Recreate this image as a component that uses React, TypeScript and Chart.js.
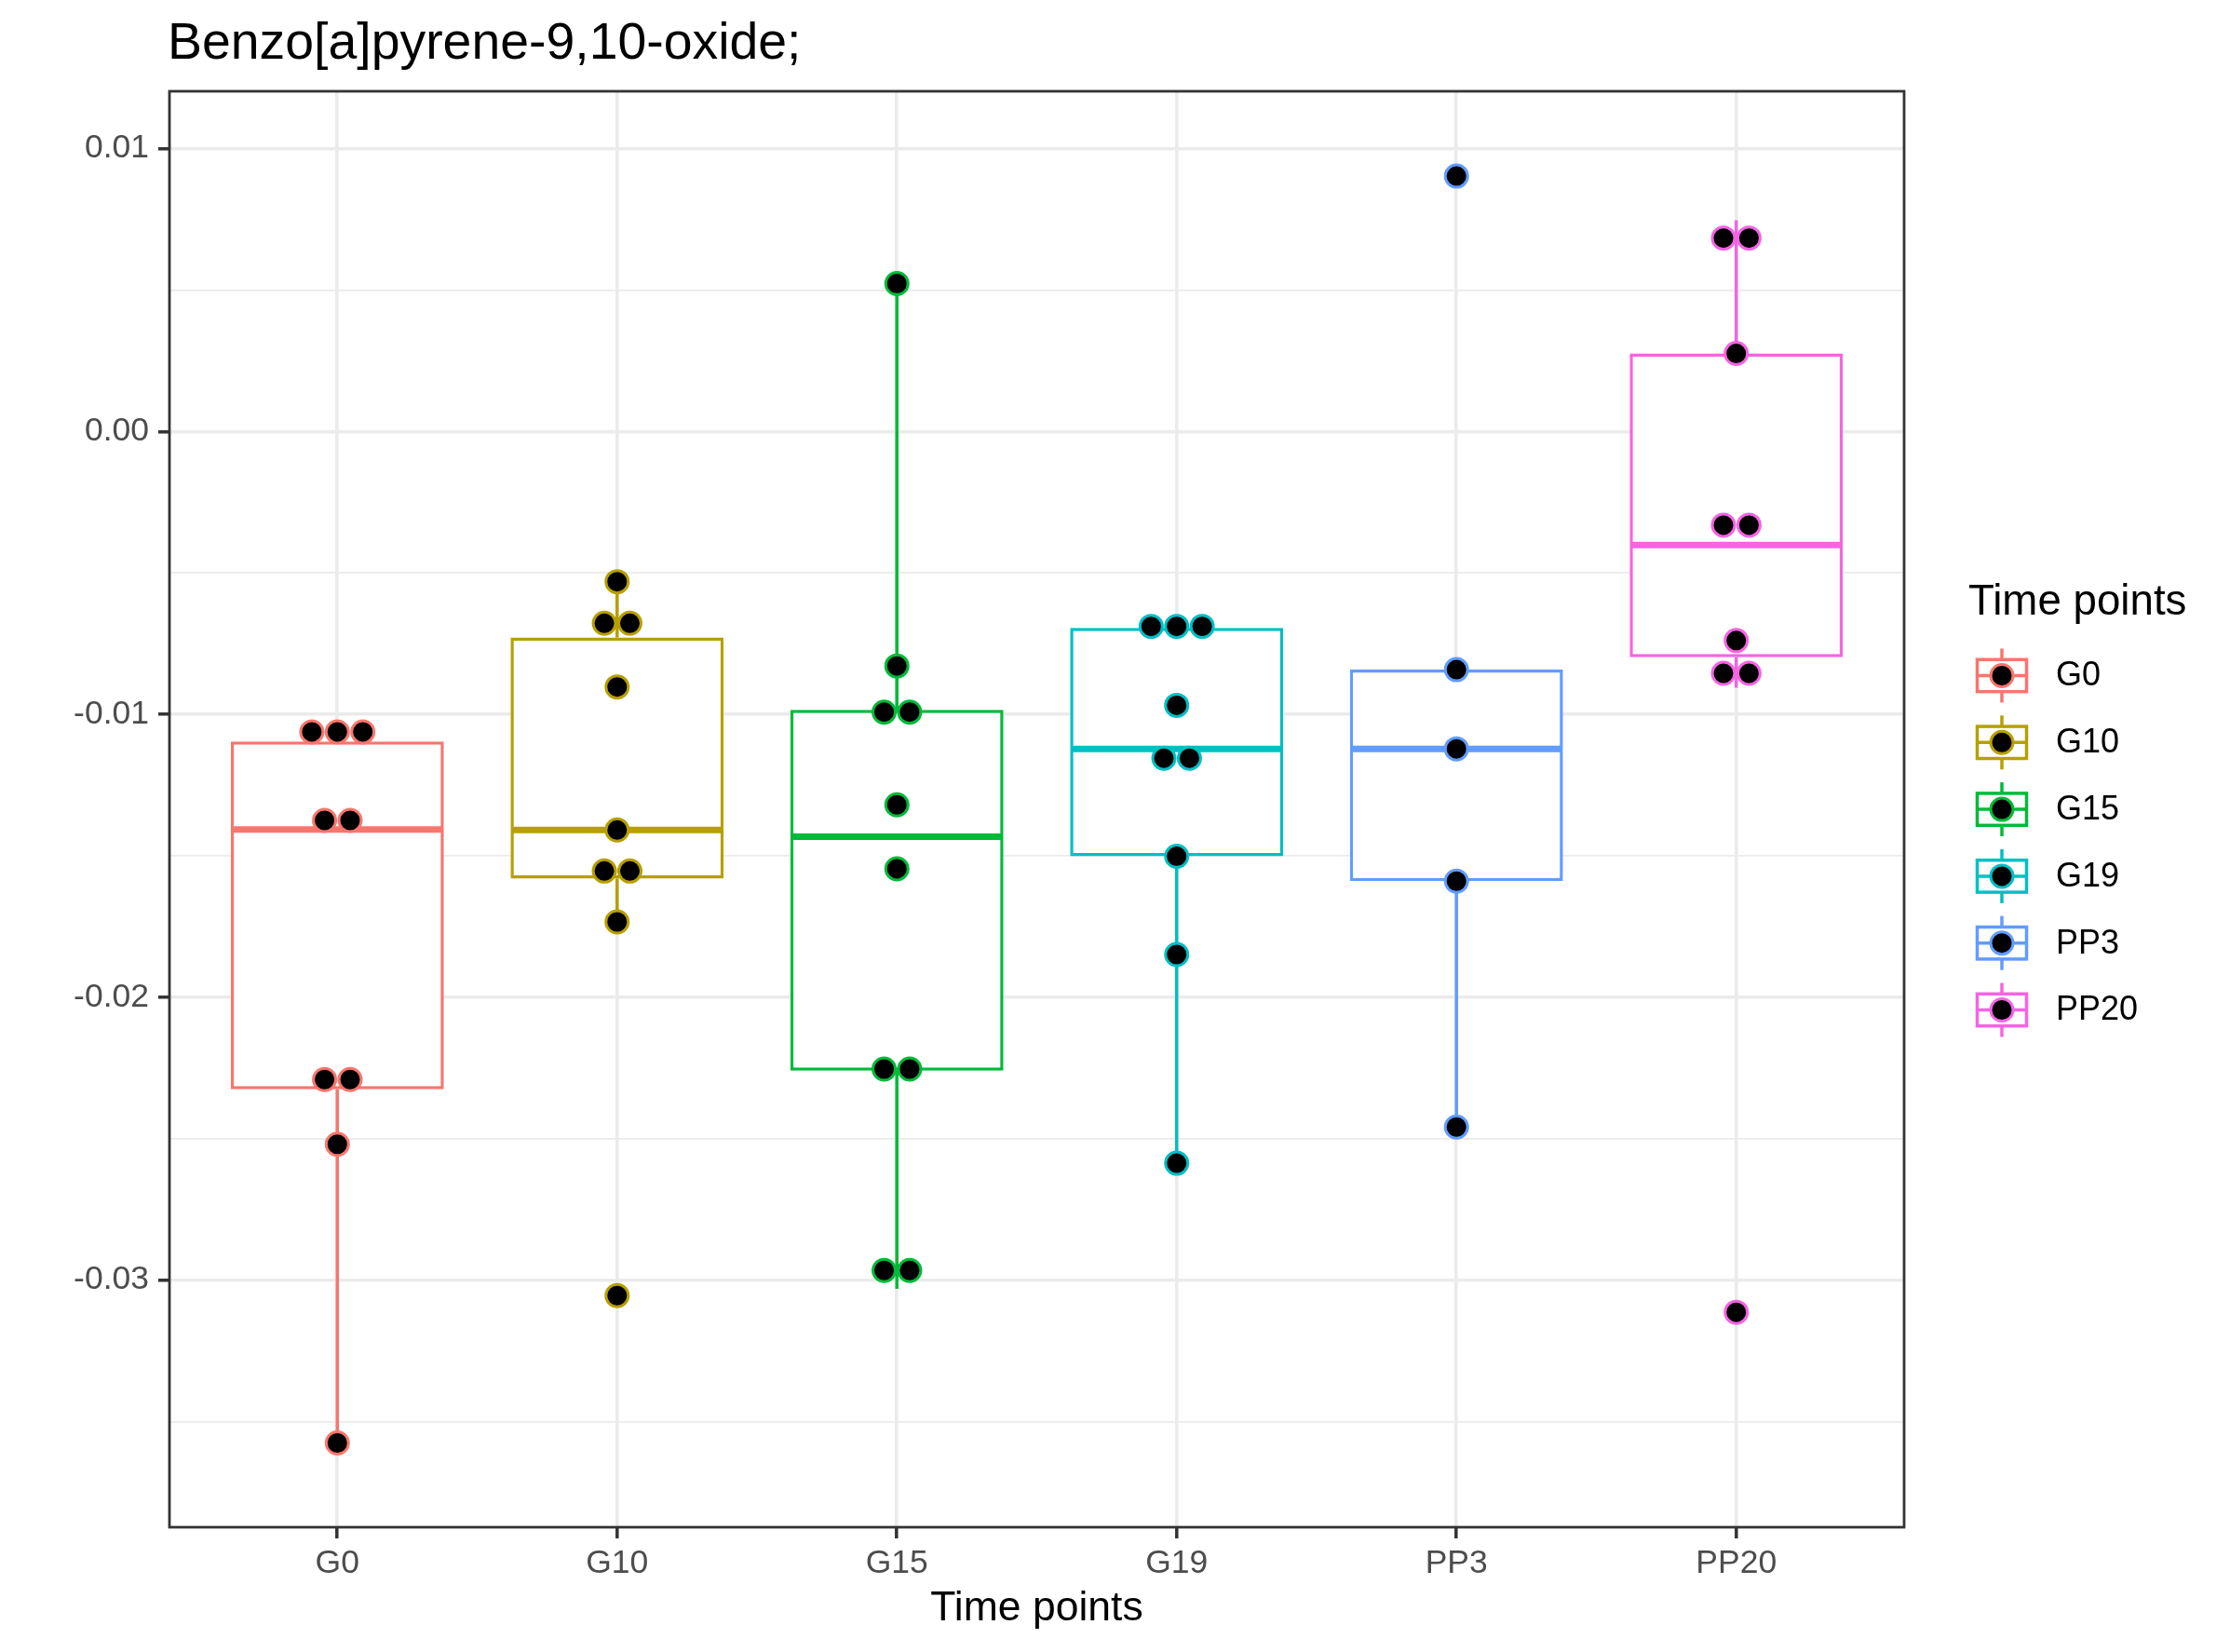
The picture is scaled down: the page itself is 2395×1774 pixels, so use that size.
import React, { useEffect, useRef } from 'react';
import { Chart, registerables } from 'chart.js';

Chart.register(...registerables);

// ---------------- data ----------------
const chartTitle = 'Benzo[a]pyrene-9,10-oxide;';
const xAxisTitle = 'Time points';
const legendTitle = 'Time points';

const categories = ['G0', 'G10', 'G15', 'G19', 'PP3', 'PP20'];
const colors = ['#F8766D', '#B79F00', '#00BA38', '#00BFC4', '#619CFF', '#F564E3'];

// box-plot statistics
const whiskerLow = [-0.03576, -0.01734, -0.03031, -0.02587, -0.02459, -0.00906];
const q1 = [-0.02326, -0.01581, -0.02260, -0.01502, -0.01590, -0.00798];
const median = [-0.01407, -0.01409, -0.01433, -0.01122, -0.01122, -0.00401];
const q3 = [-0.01096, -0.00728, -0.00984, -0.00694, -0.00842, 0.00276];
const whiskerHigh = [-0.01062, -0.00531, 0.00523, -0.00689, -0.00842, 0.00747];

// dot-plot points (repeated values are stacked side by side)
const dotsG0 = [-0.01062, -0.01062, -0.01062, -0.01375, -0.01375, -0.02291, -0.02291, -0.02520, -0.03576];
const dotsG10 = [-0.00531, -0.00678, -0.00678, -0.00903, -0.01409, -0.01554, -0.01554, -0.01734, -0.03055];
const dotsG15 = [0.00523, -0.00829, -0.00992, -0.00992, -0.01320, -0.01546, -0.02254, -0.02254, -0.02966, -0.02966];
const dotsG19 = [-0.00689, -0.00689, -0.00689, -0.00968, -0.01155, -0.01155, -0.01502, -0.01849, -0.02587];
const dotsPP3 = [0.00903, -0.00842, -0.01122, -0.01590, -0.02459];
const dotsPP20 = [0.00684, 0.00684, 0.00276, -0.00331, -0.00331, -0.00739, -0.00855, -0.00855, -0.03114];
const dotValues = [dotsG0, dotsG10, dotsG15, dotsG19, dotsPP3, dotsPP20];

const yTickValues = [0.01, 0, -0.01, -0.02, -0.03];
const yTickLabels = ['0.01', '0.00', '-0.01', '-0.02', '-0.03'];
const yMinorValues = [0.005, -0.005, -0.015, -0.025, -0.035];
const yMin = -0.03874;
const yMax = 0.01203;

// ---------------- style ----------------
const FONT = '"Liberation Sans", Arial, Helvetica, sans-serif';
const DOT_SPACING = 0.0912; // in category units
const BOX_WIDTH = 0.75; // in category units
const BOX_LW = 3.5;

function stackDots(values: number[], idx: number) {
  const counts = new Map<number, number>();
  values.forEach((v) => counts.set(v, (counts.get(v) || 0) + 1));
  const seen = new Map<number, number>();
  return values.map((v) => {
    const k = counts.get(v) || 1;
    const j = seen.get(v) || 0;
    seen.set(v, j + 1);
    return { x: idx + (j - (k - 1) / 2) * DOT_SPACING, y: v };
  });
}

const isMajorY = (v: number) => yTickValues.some((t) => Math.abs(t - v) < 1e-9);

const ggPlugin = {
  id: 'ggDecor',
  afterDatasetsDraw(chart: any) {
    const { ctx, chartArea } = chart;
    const { left, top, right, bottom } = chartArea;
    ctx.save();
    ctx.strokeStyle = '#333333';
    ctx.lineWidth = 2.8;
    ctx.strokeRect(left, top, right - left, bottom - top);
    ctx.restore();
  },
  afterDraw(chart: any) {
    const ctx = chart.ctx;
    ctx.save();
    // title
    ctx.fillStyle = '#000000';
    ctx.textAlign = 'left';
    ctx.textBaseline = 'alphabetic';
    ctx.font = `55.4px ${FONT}`;
    ctx.fillText(chartTitle, 180, 63);

    // legend
    ctx.font = `45.7px ${FONT}`;
    ctx.fillText(legendTitle, 2114, 659.5);
    const cx = 2150;
    const boxL = 2123.5;
    const boxW = 53;
    categories.forEach((c, i) => {
      const cy = 725.5 + i * 71.8;
      ctx.strokeStyle = colors[i];
      ctx.lineWidth = BOX_LW;
      ctx.beginPath();
      ctx.moveTo(cx, cy - 29);
      ctx.lineTo(cx, cy + 29);
      ctx.stroke();
      ctx.fillStyle = '#FFFFFF';
      ctx.fillRect(boxL, cy - 17.2, boxW, 34.4);
      ctx.strokeRect(boxL, cy - 17.2, boxW, 34.4);
      ctx.beginPath();
      ctx.moveTo(boxL, cy);
      ctx.lineTo(boxL + boxW, cy);
      ctx.stroke();
      ctx.beginPath();
      ctx.arc(cx, cy, 12, 0, Math.PI * 2);
      ctx.fillStyle = '#000000';
      ctx.fill();
      ctx.lineWidth = 3;
      ctx.stroke();
      ctx.fillStyle = '#000000';
      ctx.font = `36px ${FONT}`;
      ctx.textBaseline = 'middle';
      ctx.fillText(c, 2208, cy + 1);
      ctx.textBaseline = 'alphabetic';
    });
    ctx.restore();
  },
};

export default function App() {
  const canvasRef = useRef<HTMLCanvasElement | null>(null);

  useEffect(() => {
    document.body.style.margin = '0';
    const canvas = canvasRef.current;
    if (!canvas) return;

    const halfBoxPx = (c: any) => {
      const s = c.chart.scales.x;
      return Math.abs(s.getPixelForValue(BOX_WIDTH / 2) - s.getPixelForValue(0));
    };

    const datasets: any[] = [];

    // dots (drawn on top)
    dotValues.forEach((vals, i) => {
      datasets.push({
        type: 'scatter',
        order: 0,
        data: stackDots(vals, i),
        pointRadius: 12,
        pointBorderWidth: 3,
        pointBackgroundColor: '#000000',
        pointBorderColor: colors[i],
        showLine: false,
      });
    });

    // medians
    datasets.push({
      type: 'scatter',
      order: 1,
      data: categories.map((_, i) => ({ x: i, y: median[i] })),
      pointStyle: 'line',
      pointRadius: halfBoxPx,
      pointBorderWidth: BOX_LW * 2,
      pointBorderColor: colors,
      pointBackgroundColor: colors,
      showLine: false,
    });

    // boxes
    datasets.push({
      type: 'bar',
      order: 2,
      data: categories.map((_, i) => ({ x: i, y: [q1[i], q3[i]] })),
      backgroundColor: '#FFFFFF',
      borderColor: colors,
      borderWidth: BOX_LW,
      borderSkipped: false,
      barPercentage: BOX_WIDTH + BOX_LW / 300.5,
      categoryPercentage: 1,
    });

    // whiskers
    categories.forEach((_, i) => {
      datasets.push({
        type: 'line',
        order: 3,
        data: [
          { x: i, y: whiskerLow[i] },
          { x: i, y: q1[i] },
          { x: i, y: null },
          { x: i, y: q3[i] },
          { x: i, y: whiskerHigh[i] },
        ],
        borderColor: colors[i],
        borderWidth: BOX_LW,
        pointRadius: 0,
        fill: false,
        spanGaps: false,
      });
    });

    const yGrid = [...yTickValues, ...yMinorValues].sort((a, b) => a - b);

    const chart = new Chart(canvas, {
      type: 'scatter',
      data: { datasets },
      options: {
        responsive: false,
        animation: false,
        events: [],
        layout: { padding: { left: 0, top: 98, right: 350, bottom: 0 } },
        plugins: {
          legend: { display: false },
          tooltip: { enabled: false },
          title: { display: false },
        },
        scales: {
          x: {
            type: 'linear',
            min: -0.6,
            max: 5.6,
            offset: false,
            afterBuildTicks: (scale: any) => {
              scale.ticks = categories.map((_, i) => ({ value: i }));
            },
            afterFit: (scale: any) => {
              scale.height = 134;
            },
            grid: {
              offset: false,
              color: '#EBEBEB',
              lineWidth: 3.6,
              drawTicks: true,
              tickLength: 12,
              tickColor: '#333333',
              tickWidth: 3.5,
            },
            border: { display: false },
            ticks: {
              autoSkip: false,
              maxRotation: 0,
              padding: 6,
              color: '#4D4D4D',
              font: { family: FONT, size: 35.5 },
              callback: (value: any) => categories[Math.round(Number(value))] ?? '',
            },
            title: {
              display: true,
              text: xAxisTitle,
              color: '#000000',
              font: { family: FONT, size: 44.5 },
              padding: { top: 0, bottom: 20 },
            },
          },
          y: {
            type: 'linear',
            min: yMin,
            max: yMax,
            afterBuildTicks: (scale: any) => {
              scale.ticks = yGrid.map((v) => ({ value: v }));
            },
            afterFit: (scale: any) => {
              scale.width = 182;
            },
            grid: {
              color: '#EBEBEB',
              lineWidth: (c: any) => (c.tick && isMajorY(c.tick.value) ? 3.6 : 1.8),
              drawTicks: true,
              tickLength: 12,
              tickColor: (c: any) => (c.tick && isMajorY(c.tick.value) ? '#333333' : 'rgba(0,0,0,0)'),
              tickWidth: 3.5,
            },
            border: { display: false },
            ticks: {
              autoSkip: false,
              padding: 10,
              color: '#4D4D4D',
              font: { family: FONT, size: 35.5 },
              callback: (value: any) => {
                const idx = yTickValues.findIndex((t) => Math.abs(t - Number(value)) < 1e-9);
                return idx >= 0 ? yTickLabels[idx] : '';
              },
            },
          },
        },
      } as any,
      plugins: [ggPlugin],
    });

    return () => {
      chart.destroy();
    };
  }, []);

  return (
    <div style={{ width: 2395, height: 1774, background: '#FFFFFF' }}>
      <canvas ref={canvasRef} width={2395} height={1774} style={{ display: 'block' }} />
    </div>
  );
}
